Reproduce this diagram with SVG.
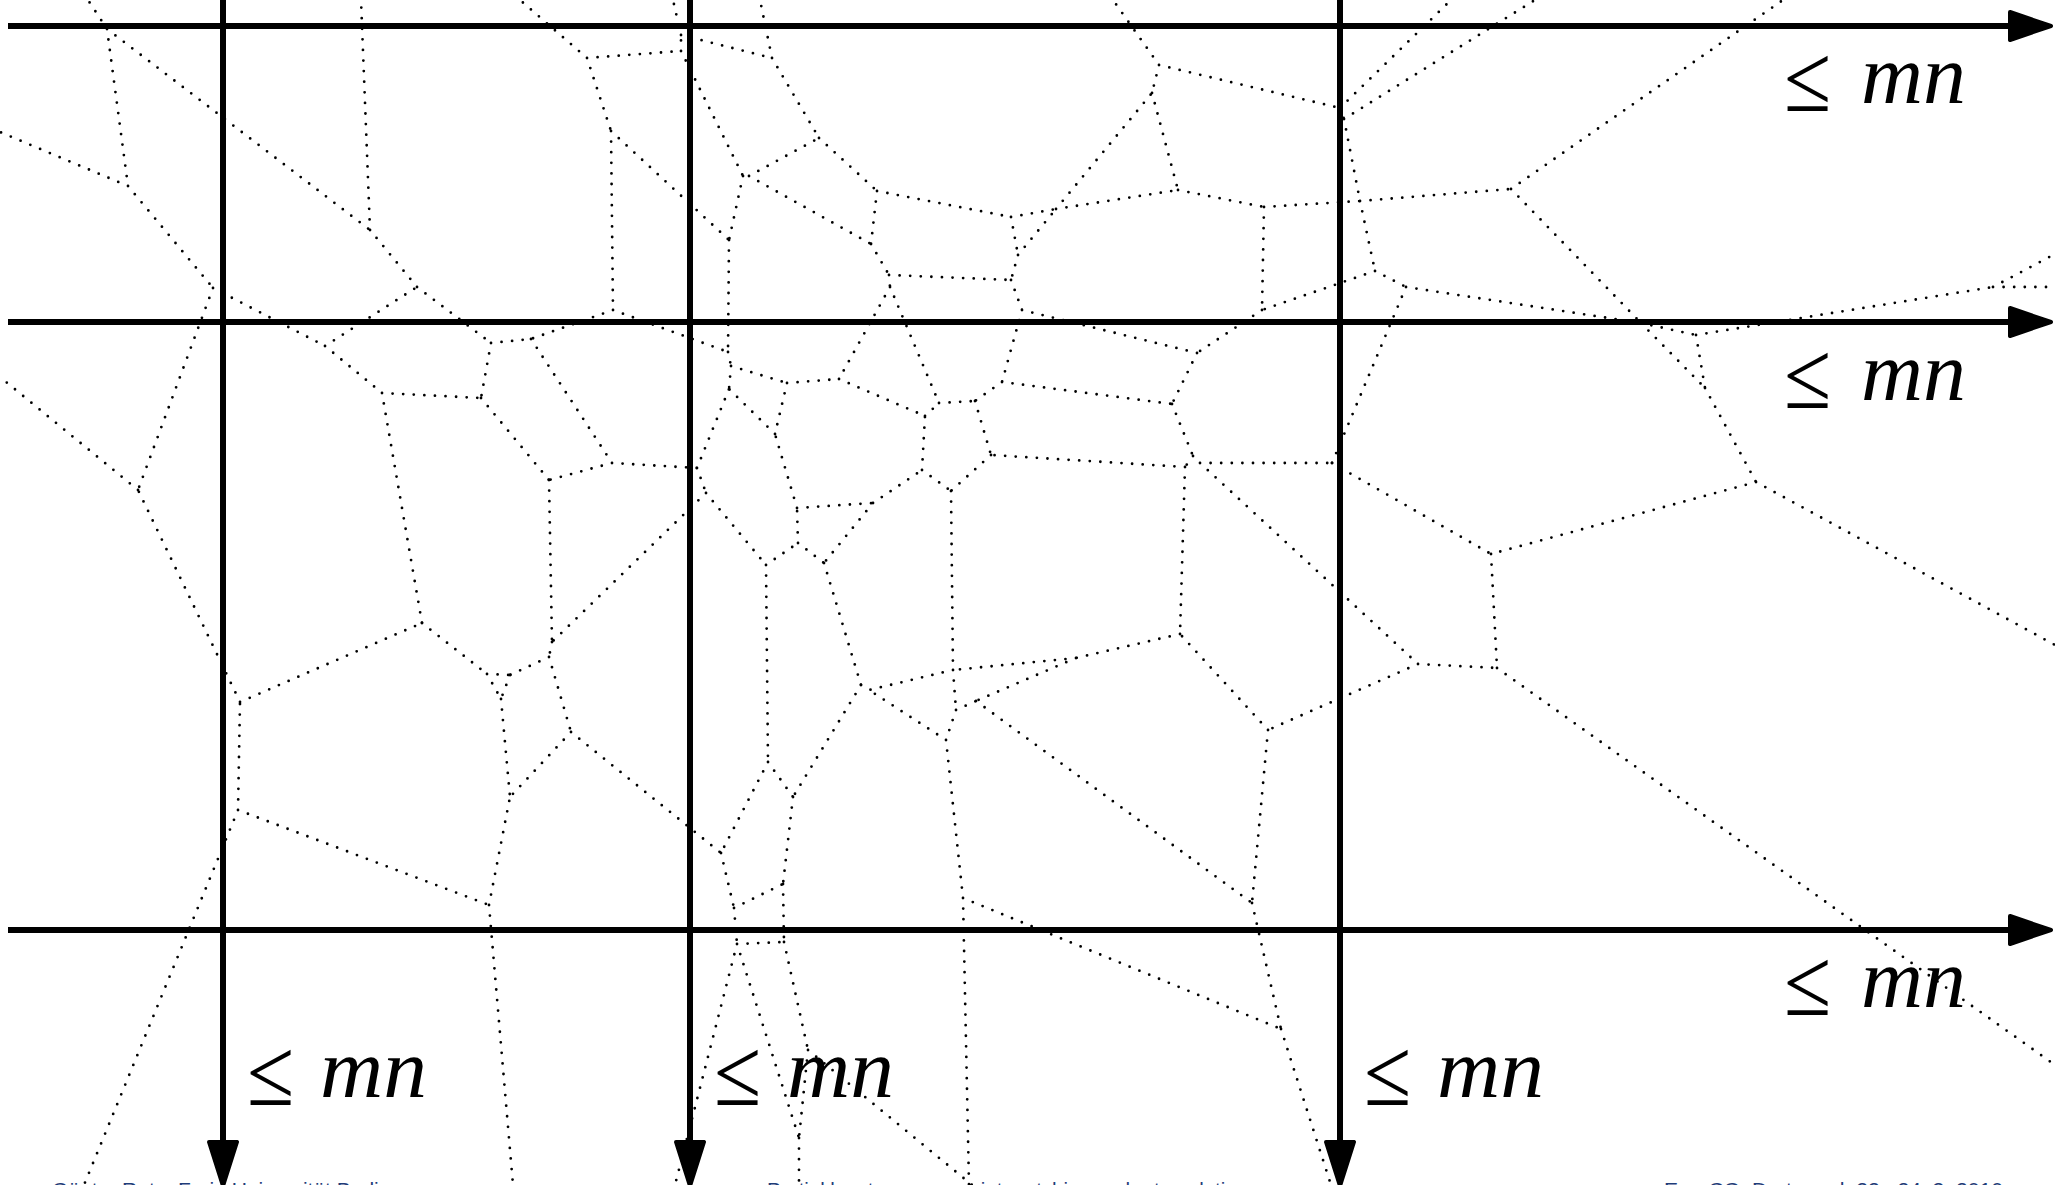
<svg xmlns="http://www.w3.org/2000/svg" width="2055" height="1185" viewBox="0 0 2055 1185">
<style>
.v{fill:none;stroke:#000;stroke-width:2.8;stroke-linecap:round;stroke-dasharray:0 10.6}
.ax{fill:none;stroke:#000;stroke-width:6}
.ah{fill:#000;stroke:#000;stroke-width:4;stroke-linejoin:round}
.le{font-family:"Liberation Serif","DejaVu Serif",serif;font-size:86px}
.mn{font-family:"Liberation Serif","DejaVu Serif",serif;font-style:italic;font-size:84px}
.ft{font-family:"Liberation Sans",Arial,sans-serif;font-size:21px;fill:#1f3c78}
</style>
<rect width="2055" height="1185" fill="#fff"/>
<g id="voronoi" class="v">
<path d="M107 29L88 0M107 29L128 186M107 29L370 230M128 186L0 132M128 186L213 288M213 288L325 346M213 288L138 490M325 346L417 287M325 346L382 393M417 287L370 230M417 287L491 343M370 230L361 0M491 343L531 339M491 343L481 398M382 393L481 398M382 393L422 623M481 398L549 480"/>
<path d="M587 58L520 0M587 58L681 51M587 58L611 131M681 51L681 35M681 35L673 0M681 35L772 58M681 51L743 176M743 176L749 176M743 176L729 240M749 176L819 138M749 176L871 244M772 58L760 0M772 58L819 138M819 138L877 191M877 191L871 244M877 191L1011 217M871 244L889 275M889 275L890 287M889 275L1011 280M890 287L839 379M890 287L939 403"/>
<path d="M611 131L613 310M611 131L729 240M613 310L531 339M613 310L728 352M729 240L728 352M728 352L731 366M731 366L787 383M731 366L729 389M787 383L839 379M787 383L775 434M839 379L925 416"/>
<path d="M1011 217L1056 209M1011 217L1018 255M1018 255L1056 209M1018 255L1011 280M1011 280L1022 310M1056 209L1152 93M1056 209L1178 190M1159 65L1113 0M1159 65L1340 108M1159 65L1152 93M1152 93L1178 190M1340 108L1451 0M1340 108L1344 119M1344 119L1535 0M1344 119L1360 201M1178 190L1264 207M1264 207L1360 201M1264 207L1262 310M1360 201L1511 189M1360 201L1375 271M1511 189L1783 0M1511 189L1641 323M1375 271L1262 310M1375 271L1406 287M1406 287L1641 323M1406 287L1332 463M1262 310L1197 353M1197 353L1022 310M1197 353L1172 404M1022 310L1002 382M1002 382L1172 404M1002 382L975 401"/>
<path d="M1641 323L1696 335M1641 323L1705 388M1696 335L1993 287M1696 335L1705 388M1993 287L2055 287M1993 287L2055 254M1705 388L1756 482M1756 482L1491 554M1756 482L2055 645"/>
<path d="M1172 404L1193 456M1193 456L1185 467M1193 456L1200 463M1200 463L1332 463M1200 463L1418 664M1185 467L991 455M1185 467L1180 634M1332 463L1491 554M1491 554L1497 668M1418 664L1497 668M1418 664L1268 730M1497 668L2055 1065M1268 730L1180 634M1268 730L1252 903M1180 634L1076 658M1076 658L953 670M1076 658L976 701"/>
<path d="M531 339L612 463M612 463L549 480M612 463L697 468M549 480L552 642M697 468L729 389M697 468L706 493M706 493L552 642M706 493L766 565M552 642L549 657M549 657L510 675M549 657L571 732M766 565L798 543M766 565L768 762M798 543L797 508M798 543L824 563M797 508L775 434M775 434L729 389M797 508L873 503M873 503L922 470M873 503L824 563M824 563L861 685"/>
<path d="M922 470L925 416M922 470L951 491M925 416L939 403M939 403L975 401M975 401L991 455M991 455L951 491M951 491L953 670M953 670L869 690M953 670L956 710M956 710L976 701M956 710L946 740M976 701L1252 903M946 740L869 690M946 740L963 898M861 685L869 690M861 685L793 797"/>
<path d="M768 762L793 797M768 762L721 853M571 732L721 853M571 732L510 797M793 797L783 884M721 853L734 908M734 908L783 884M734 908L737 944M783 884L784 942M737 944L784 942M737 944L675 1185M737 944L799 1138M784 942L808 1050M808 1050L799 1138M808 1050L972 1185M799 1138L799 1185M963 898L1281 1029M963 898L969 1185M1252 903L1281 1029M1281 1029L1331 1185"/>
<path d="M238 810L240 702M238 810L489 905M238 810L84 1185M489 905L510 797M489 905L513 1185M240 702L138 490M240 702L422 623M138 490L0 377M422 623L487 674M487 674L510 675M487 674L501 699M510 675L501 699M501 699L510 797"/>
</g>
<g id="axes">
<path class="ax" d="M8 26H2012M8 322H2012M8 930H2012M223 0V1144M690 0V1144M1340 0V1144"/>
<polygon class="ah" points="2010,12 2051,26 2010,40"/>
<polygon class="ah" points="2010,308 2051,322 2010,336"/>
<polygon class="ah" points="2010,916 2051,930 2010,944"/>
<polygon class="ah" points="209,1142 223,1186 237,1142"/>
<polygon class="ah" points="676,1142 690,1186 704,1142"/>
<polygon class="ah" points="1326,1142 1340,1186 1354,1142"/>
</g>
<g id="labels">
<text class="le" transform="translate(1784,111) scale(1,1.12)">≤</text><text class="mn" x="1861" y="103" textLength="105" lengthAdjust="spacingAndGlyphs">mn</text>
<text class="le" transform="translate(1784,408) scale(1,1.12)">≤</text><text class="mn" x="1861" y="400" textLength="105" lengthAdjust="spacingAndGlyphs">mn</text>
<text class="le" transform="translate(1784,1015) scale(1,1.12)">≤</text><text class="mn" x="1861" y="1007" textLength="105" lengthAdjust="spacingAndGlyphs">mn</text>
<text class="le" transform="translate(247,1105) scale(1,1.12)">≤</text><text class="mn" x="320" y="1097" textLength="107" lengthAdjust="spacingAndGlyphs">mn</text>
<text class="le" transform="translate(714,1105) scale(1,1.12)">≤</text><text class="mn" x="787" y="1097" textLength="107" lengthAdjust="spacingAndGlyphs">mn</text>
<text class="le" transform="translate(1364,1105) scale(1,1.12)">≤</text><text class="mn" x="1437" y="1097" textLength="107" lengthAdjust="spacingAndGlyphs">mn</text>
</g>
<g id="footer">
<text class="ft" x="52" y="1197">Günter Rote, Freie Universität Berlin</text>
<text class="ft" x="767" y="1197" textLength="491" lengthAdjust="spacingAndGlyphs">Partial least-squares point matching under translations</text>
<text class="ft" x="1664" y="1197" textLength="339" lengthAdjust="spacingAndGlyphs">EuroCG, Dortmund, 22.–24. 3. 2010</text>
</g>
</svg>
